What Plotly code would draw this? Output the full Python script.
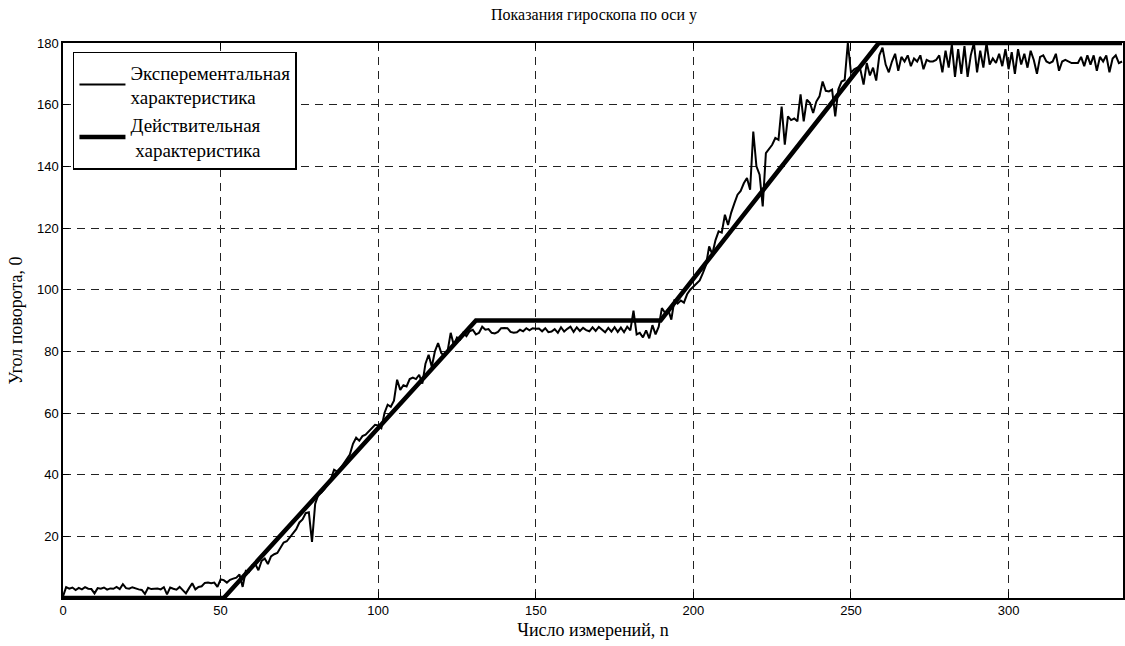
import plotly.graph_objects as go

# Experimental (measured) gyroscope readings, n = 0..336
exp_vals = [
    0.5,
    3.5, 3.0, 3.4, 2.6, 3.3, 2.8, 3.5, 3.0, 2.9, 1.5,
    3.2, 3.0, 3.4, 2.7, 3.1, 3.0, 3.6, 2.9, 4.5, 3.2,
    3.0, 3.5, 3.1, 2.8, 2.6, 1.3, 3.3, 2.9, 3.0, 3.1,
    2.8, 3.5, 1.2, 3.4, 3.0, 2.7, 3.6, 2.5, 1.5, 3.2,
    4.8, 2.8, 3.6, 3.8, 4.9, 5.0, 4.8, 5.0, 3.6, 6.0,
    5.8, 5.0, 5.9, 6.3, 6.6, 7.6, 3.6, 8.8, 8.4, 10.6,
    11.0, 9.0, 12.0, 12.8, 11.0, 13.5, 14.2, 14.6, 16.2, 18.0,
    18.4, 19.8, 21.0, 22.3, 24.5, 25.5, 27.5, 27.8, 18.2, 30.5,
    33.5, 34.2, 35.4, 36.8, 38.6, 41.6, 41.0, 42.0, 43.5, 45.0,
    46.5, 50.0, 52.0, 51.0, 52.5, 53.0, 54.0, 55.0, 56.2, 56.0,
    55.1, 60.0, 62.7, 62.0, 64.0, 70.8, 67.5, 69.0, 68.6, 71.0,
    71.5, 71.0, 72.4, 69.5, 76.0, 78.9, 75.0, 80.0, 82.7, 79.5,
    78.4, 80.0, 86.0, 82.0, 84.5, 83.8, 86.0, 84.9, 86.5, 87.0,
    85.5, 86.0, 88.0, 87.0, 87.2, 86.0, 85.8, 86.3, 87.5, 87.6,
    87.5, 86.3, 86.0, 86.2, 87.0, 86.5, 87.5, 86.8, 87.5, 87.3,
    87.4, 86.5, 87.5, 86.2, 86.4, 87.2, 86.0, 87.8, 86.4, 87.3,
    88.0, 86.3, 87.8, 86.6, 87.6, 86.9, 86.5, 87.8, 86.6, 87.9,
    87.0, 86.2, 87.6, 86.4, 87.8, 86.3, 87.7, 86.2, 88.0, 86.8,
    93.2, 85.5, 86.0, 84.5, 86.8, 84.2, 88.5, 85.5, 88.0,
    94.0, 92.5, 93.5, 90.3, 96.8, 95.5, 96.5, 95.8, 98.5, 100.0,
    101.0, 102.0, 103.0, 105.4, 108.0, 114.0, 111.5, 116.0, 118.9, 118.5,
    124.3, 121.0, 125.0, 128.0, 130.8, 132.0, 134.5, 136.2, 132.4, 151.3,
    140.0, 137.3, 127.0, 144.3, 145.5, 147.0, 149.2, 148.6, 159.4, 147.0,
    156.2, 155.0, 155.5, 154.6, 163.3, 154.6, 161.6, 160.5, 157.3, 161.0,
    162.7, 167.5, 164.5, 164.3, 164.9, 156.2, 165.0, 167.5, 168.0, 180.0,
    170.3, 171.5, 172.0, 171.3, 166.5, 173.5, 169.5, 172.0, 167.8,
    176.0, 178.5, 173.0, 170.5, 174.0, 176.5, 171.0, 175.5, 174.0, 176.0,
    172.5, 175.0, 174.0, 176.0, 171.5, 174.5, 174.0, 174.0, 174.5, 176.0,
    170.5, 177.5, 172.0, 179.5, 169.0, 178.0, 170.0, 179.0, 169.0, 176.0,
    180.0, 170.5, 177.5, 172.0, 180.0, 173.0, 175.0, 173.5, 176.5, 172.5,
    178.0, 171.5, 177.0, 170.0, 178.0, 173.0, 176.5, 172.0, 177.5, 174.5,
    170.0, 175.5, 176.0, 174.0, 173.5, 174.0, 176.5, 171.0, 174.0, 174.5,
    174.0, 173.5, 173.5, 173.5, 175.5, 172.5, 176.0, 173.0, 176.0, 171.0,
    175.5, 174.0, 176.0, 170.5, 175.0, 176.0, 173.5, 174.0,
]
exp_n = list(range(len(exp_vals)))

# Actual (reference) characteristic: breakpoints
act_n = [0, 51, 131, 189.6, 258.8, 336]
act_vals = [0, 0, 90, 90, 180, 180]

x_ticks = [0, 50, 100, 150, 200, 250, 300]
y_ticks = [20, 40, 60, 80, 100, 120, 140, 160, 180]

serif = "Liberation Serif, Times New Roman, serif"
sans = "Liberation Sans, Arial, sans-serif"

fig = go.Figure()
fig.add_trace(go.Scatter(
    x=exp_n, y=exp_vals, mode="lines",
    line=dict(color="black", width=2),
    name="Эксперементальная<br>характеристика",
))
fig.add_trace(go.Scatter(
    x=act_n, y=act_vals, mode="lines",
    line=dict(color="black", width=4.5),
    name="Действительная<br> характеристика",
))

axis_common = dict(
    showline=True, linecolor="black", linewidth=1.5, mirror="ticks",
    ticks="inside", ticklen=6, tickcolor="black",
    showgrid=True, gridcolor="#222222", griddash="8px,6px", gridwidth=1,
    zeroline=False,
    tickfont=dict(family=sans, size=13, color="black"),
)

fig.update_layout(
    width=1125, height=646,
    margin=dict(l=63, r=0, t=43, b=48),
    paper_bgcolor="white", plot_bgcolor="white",
    title=dict(text="Показания гироскопа по оси y", x=0.528, xanchor="center",
               y=0.978, yanchor="middle",
               font=dict(family=serif, size=16, color="black")),
    xaxis=dict(range=[0, 336.3], tickvals=x_ticks,
               title=dict(text="Число измерений, n", standoff=6,
                          font=dict(family=serif, size=18, color="black")),
               **axis_common),
    yaxis=dict(range=[0, 180], tickvals=y_ticks,
               title=dict(text="Угол поворота, 0", standoff=10,
                          font=dict(family=serif, size=18, color="black")),
               **axis_common),
    legend=dict(x=0.0094, y=0.984, xanchor="left", yanchor="top",
                bgcolor="white", bordercolor="black", borderwidth=1.5,
                font=dict(family=serif, size=19, color="black"),
                itemwidth=46, tracegroupgap=0),
    showlegend=True,
)

fig.write_html("out.html")
